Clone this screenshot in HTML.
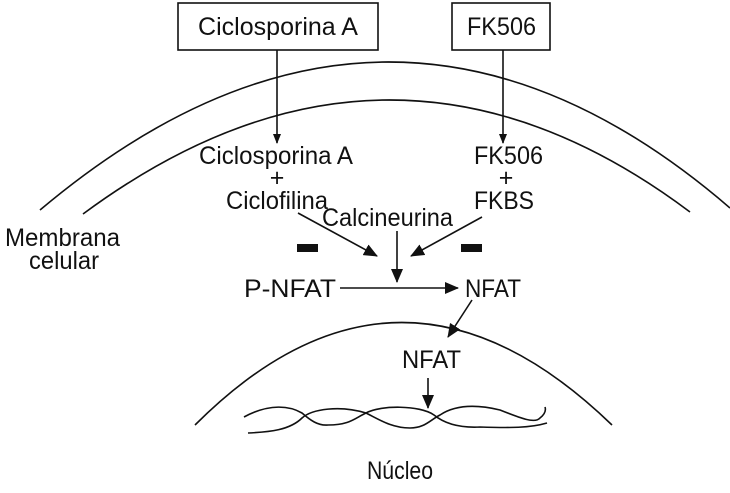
<!DOCTYPE html>
<html><head><style>body{margin:0;background:#fff}svg{display:block}text{font-family:"Liberation Sans",sans-serif;fill:#111}</style></head><body>
<svg width="730" height="493" viewBox="0 0 730 493" xmlns="http://www.w3.org/2000/svg">
<defs><marker id="a" markerWidth="10" markerHeight="8" refX="9" refY="4" orient="auto" markerUnits="userSpaceOnUse"><path d="M0,0 L10,4 L0,8 Z" fill="#111"/></marker>
<marker id="b" markerWidth="14" markerHeight="12" refX="13" refY="6" orient="auto" markerUnits="userSpaceOnUse"><path d="M0,0 L14,6 L0,12 Z" fill="#111"/></marker></defs>
<g fill="none" stroke="#111" stroke-width="1.6">
<rect x="178" y="3" width="200" height="47"/>
<rect x="452" y="3" width="98" height="47"/>
<path d="M40,210 Q390,-85 730,208"/>
<path d="M83,214 Q390,-13 690,212"/>
<path d="M195,425 Q400,220 612,425"/>
<line x1="277" y1="50" x2="277" y2="143" marker-end="url(#a)"/>
<line x1="503" y1="50" x2="503" y2="143" marker-end="url(#a)"/>
<line x1="298" y1="213" x2="377" y2="256" marker-end="url(#b)"/>
<line x1="482" y1="217" x2="411" y2="256" marker-end="url(#b)"/>
<line x1="397" y1="231" x2="397" y2="282" marker-end="url(#b)"/>
<line x1="340" y1="288" x2="458" y2="288" marker-end="url(#b)"/>
<line x1="472" y1="300" x2="448" y2="337" marker-end="url(#b)"/>
<line x1="428" y1="378" x2="428" y2="408" marker-end="url(#b)"/>
<path d="M244,417 C270,403 290,406 302,413 C310,420 318,426 328,425 C350,425 355,418 366,413 C380,405 420,405 434,415 C445,424 460,428 480,427 C510,428 530,428 547,423"/>
<path d="M248,433 C270,432 290,430 302,418 C312,409 340,405 366,413 C380,420 392,428 410,428 C425,428 430,420 440,415 C455,405 475,404 500,410 C520,418 535,424 540,418 C545,414 546,410 545,407"/>
</g>
<rect x="297" y="244" width="21" height="8" fill="#111"/>
<rect x="461" y="244" width="21" height="8" fill="#111"/>
<g font-size="25">
<text x="198" y="35" textLength="160" lengthAdjust="spacingAndGlyphs">Ciclosporina A</text>
<text x="467" y="35" textLength="69" lengthAdjust="spacingAndGlyphs">FK506</text>
<text x="199" y="164" textLength="154" lengthAdjust="spacingAndGlyphs">Ciclosporina A</text>
<text x="277" y="186" text-anchor="middle">+</text>
<text x="226" y="209" textLength="102" lengthAdjust="spacingAndGlyphs">Ciclofilina</text>
<text x="474" y="164" textLength="69" lengthAdjust="spacingAndGlyphs">FK506</text>
<text x="506" y="186" text-anchor="middle">+</text>
<text x="474" y="209" textLength="60" lengthAdjust="spacingAndGlyphs">FKBS</text>
<text x="322" y="226" textLength="131" lengthAdjust="spacingAndGlyphs">Calcineurina</text>
<text x="5" y="246" textLength="115" lengthAdjust="spacingAndGlyphs">Membrana</text>
<text x="29" y="269" textLength="70" lengthAdjust="spacingAndGlyphs">celular</text>
<text x="244" y="297" textLength="92" lengthAdjust="spacingAndGlyphs">P-NFAT</text>
<text x="465" y="297" textLength="56" lengthAdjust="spacingAndGlyphs">NFAT</text>
<text x="402" y="368" textLength="59" lengthAdjust="spacingAndGlyphs">NFAT</text>
<text x="367" y="479" textLength="66" lengthAdjust="spacingAndGlyphs">Núcleo</text>
</g>
</svg>
</body></html>
